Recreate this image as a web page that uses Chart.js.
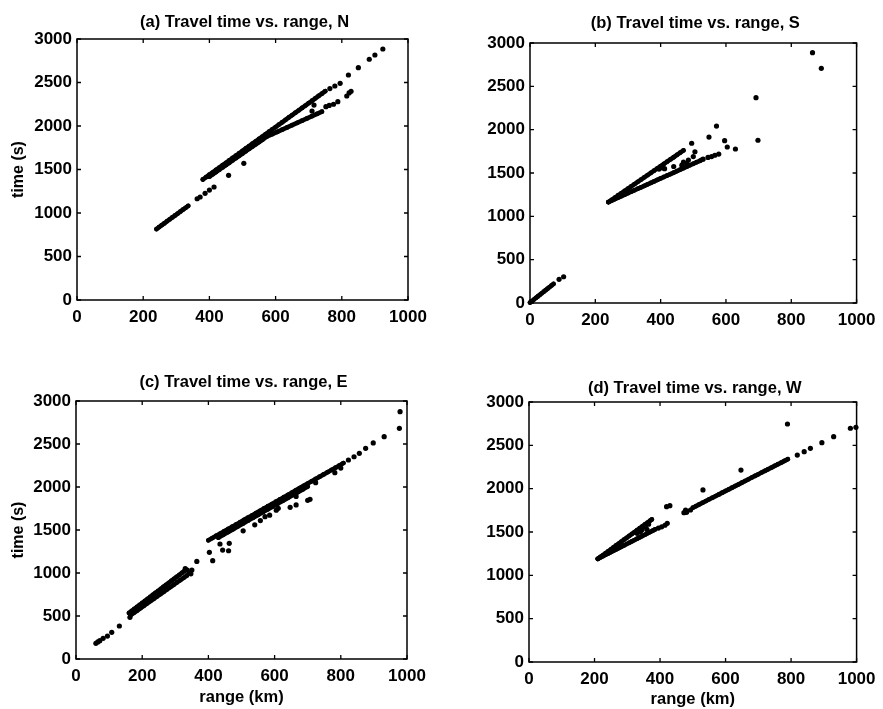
<!DOCTYPE html>
<html><head><meta charset="utf-8">
<script src="https://cdn.jsdelivr.net/npm/chart.js@4/dist/chart.umd.min.js"></script>
<style>
html,body{margin:0;padding:0;background:#fff;}
#wrap{position:relative;width:883px;height:709px;overflow:hidden;background:#fff;}
.panel{position:absolute;}
.panel canvas{display:block;}
</style></head><body>
<div id="wrap">
<div class="panel" style="left:0;top:0;width:441px;height:340px"><canvas id="ca"></canvas></div>
<div class="panel" style="left:441px;top:0;width:442px;height:340px"><canvas id="cb"></canvas></div>
<div class="panel" style="left:0;top:340px;width:441px;height:369px"><canvas id="cc"></canvas></div>
<div class="panel" style="left:441px;top:340px;width:442px;height:369px"><canvas id="cd"></canvas></div>
</div>
<script>
// ---- text / ticks ----
const panelTitles = ['(a) Travel time vs. range, N','(b) Travel time vs. range, S','(c) Travel time vs. range, E','(d) Travel time vs. range, W'];
const xAxisLabel = 'range (km)';
const yAxisLabel = 'time (s)';
const xTicks = [0,200,400,600,800,1000];
const yTicks = [0,500,1000,1500,2000,2500,3000];

// ---- (a) North: [range km, time s] ----
const nLowerRun = [[240,815],[248,838],[256,860],[264,882],[272,905],[280,927],[288,949],[296,971],[304,993],[312,1015],[320,1038],[328,1060],[336,1082]];
const nGapDots = [[363,1164],[372,1184],[387,1226],[400,1264],[414,1299],[458,1433],[504,1571]];
const nUpperBranch = [[380,1385],[390,1412],[400,1440],[410,1467],[420,1495],[430,1522],[440,1550],[450,1577],[460,1604],[470,1632],[480,1659],[490,1687],[500,1714],[510,1742],[520,1769],[530,1796],[540,1824],[550,1851],[560,1879],[570,1906],[580,1934],[590,1961],[600,1988],[610,2016],[620,2043],[630,2071],[640,2098],[650,2126],[660,2153],[670,2180],[680,2208],[690,2235],[700,2263],[710,2290],[720,2318],[730,2345],[740,2372],[750,2400]];
const nLowerBranch = [[400,1418],[410,1445],[420,1471],[430,1498],[440,1524],[450,1551],[460,1577],[470,1604],[480,1630],[490,1657],[500,1683],[510,1710],[520,1736],[530,1763],[540,1789],[550,1816],[560,1842],[573,1877],[590,1906],[605,1932],[620,1958],[635,1984],[650,2010],[665,2036],[680,2061],[695,2087],[710,2113],[725,2139],[740,2165]];
const nFarDots = [[710,2172],[716,2241],[752,2222],[762,2236],[775,2250],[788,2280],[764,2430],[779,2460],[795,2491],[815,2345],[822,2380],[828,2398],[820,2586],[850,2670],[883,2767],[900,2816],[924,2885]];

// ---- (b) South ----
const sOriginRun = [[0,5],[6,22],[12,40],[18,58],[24,76],[30,94],[36,112],[42,130],[48,148],[54,166],[60,184],[66,202],[72,220]];
const sEndDots = [[89,273],[103,303]];
const sUpperBranch = [[240,1165],[250,1191],[260,1217],[270,1243],[280,1268],[290,1294],[300,1320],[310,1346],[320,1372],[330,1398],[340,1424],[350,1450],[360,1475],[370,1501],[380,1527],[390,1553],[400,1579],[410,1605],[420,1631],[430,1657],[440,1682],[450,1708],[460,1734],[470,1760]];
const sLowerBranch = [[240,1165],[250,1182],[260,1199],[270,1216],[280,1233],[290,1250],[300,1267],[310,1284],[320,1301],[330,1318],[340,1335],[350,1352],[360,1369],[370,1386],[380,1403],[390,1420],[400,1437],[410,1454],[420,1471],[430,1488],[440,1505],[450,1522],[460,1539],[470,1556],[480,1573],[490,1590],[500,1607],[510,1624],[520,1641],[525,1650]];
const sInnerDots = [[395,1545],[405,1560],[412,1550],[440,1575],[465,1590],[470,1625],[480,1610],[485,1650],[500,1690],[505,1745],[530,1660],[545,1680],[556,1690],[566,1705],[578,1718]];
const sOutliers = [[495,1843],[548,1915],[571,2042],[596,1873],[604,1800],[629,1777],[692,2369],[698,1878],[865,2888],[892,2708]];

// ---- (c) East ----
const eStartDots = [[60,182],[66,198],[72,213],[82,240],[95,267],[108,310],[131,384],[163,485]];
const eLowerRunTop = [[160,535],[168,558],[176,582],[184,605],[192,628],[200,651],[208,675],[216,698],[224,721],[232,745],[240,768],[248,791],[256,814],[264,838],[272,861],[280,884],[288,908],[296,931],[304,954],[312,977],[320,1001],[328,1024]];
const eLowerRunBottom = [[165,510],[175,537],[185,564],[195,591],[205,619],[215,646],[225,673],[235,700],[245,727],[255,754],[265,781],[275,809],[285,836],[295,863],[305,890],[315,917],[325,944],[335,971]];
const eMidDots = [[330,1050],[336,1035],[342,1000],[347,990],[350,1035],[365,1135],[403,1240],[413,1143],[435,1337],[443,1267],[461,1259],[463,1345]];
const eUpperTop = [[400,1380],[412,1406],[424,1433],[436,1459],[448,1486],[460,1512],[472,1538],[484,1565],[496,1591],[508,1618],[520,1644],[532,1670],[544,1697],[556,1723],[568,1750],[580,1776],[592,1802],[604,1829],[616,1855],[628,1882],[640,1908],[652,1934],[664,1961],[676,1987],[688,2014],[700,2040],[712,2066],[724,2093],[736,2119],[748,2146],[760,2172],[772,2198],[784,2225],[796,2251],[808,2278]];
const eUpperBottom = [[430,1411],[445,1444],[460,1477],[475,1510],[490,1543],[505,1576],[520,1609],[535,1642],[550,1675],[565,1708],[580,1741],[595,1774],[610,1807],[625,1840],[640,1873],[655,1906],[670,1939],[685,1972],[700,2005]];
const eBelowDots = [[505,1490],[540,1560],[557,1610],[571,1655],[585,1672],[605,1730],[611,1752],[647,1764],[665,1791],[665,1890],[700,1845],[707,1857],[724,2050],[782,2166],[800,2220]];
const eFarDots = [[823,2314],[840,2352],[856,2391],[875,2450],[898,2512],[931,2585],[977,2682],[979,2876]];

// ---- (d) West ----
const wUpperBranch = [[210,1190],[218,1212],[226,1234],[234,1256],[242,1278],[250,1300],[258,1322],[266,1345],[274,1367],[282,1389],[290,1411],[298,1433],[306,1455],[314,1477],[322,1499],[330,1521],[338,1543],[346,1565],[354,1587],[362,1609],[370,1632],[375,1645]];
const wLowerBranch = [[210,1190],[218,1206],[226,1221],[234,1237],[242,1252],[250,1268],[258,1283],[266,1299],[274,1314],[282,1330],[290,1345],[298,1361],[306,1376],[314,1392],[322,1407],[330,1423],[338,1438],[346,1454],[354,1469],[362,1485],[370,1500],[378,1516],[385,1530]];
const wInnerDots = [[330,1485],[340,1500],[345,1525],[355,1560],[360,1530],[365,1590],[395,1545],[405,1560],[415,1578],[422,1600]];
const wMidDots = [[420,1792],[430,1804],[473,1723],[478,1754],[481,1727],[493,1754]];
const wLongRun = [[500,1780],[510,1799],[520,1819],[530,1838],[540,1857],[550,1877],[560,1896],[570,1915],[580,1934],[590,1954],[600,1973],[610,1992],[620,2012],[630,2031],[640,2050],[650,2070],[660,2089],[670,2108],[680,2128],[690,2147],[700,2166],[710,2186],[720,2205],[730,2224],[740,2243],[750,2263],[760,2282],[770,2301],[780,2321],[790,2340]];
const wFarDots = [[819,2388],[840,2427],[859,2465],[894,2531],[930,2600],[981,2697],[998,2708]];
const wOutliers = [[531,1985],[647,2215],[789,2746]];

// ---- rendering ----
const FONT = '"Liberation Sans", Arial, Helvetica, sans-serif';
Chart.defaults.font.family = FONT;
Chart.defaults.font.size = 17;
Chart.defaults.font.weight = 'bold';
Chart.defaults.color = '#000';

const frameTicks = {
  id: 'frameTicks',
  afterDatasetsDraw(chart) {
    const {ctx, chartArea: a, scales: {x, y}} = chart;
    ctx.save();
    ctx.strokeStyle = '#000';
    ctx.lineWidth = 1.5;
    ctx.strokeRect(a.left, a.top, a.right - a.left, a.bottom - a.top);
    ctx.lineWidth = 1.3;
    const L = 4;
    ctx.beginPath();
    x.ticks.forEach(t => { const p = x.getPixelForValue(t.value); ctx.moveTo(p, a.bottom); ctx.lineTo(p, a.bottom - L); ctx.moveTo(p, a.top); ctx.lineTo(p, a.top + L); });
    y.ticks.forEach(t => { const p = y.getPixelForValue(t.value); ctx.moveTo(a.left, p); ctx.lineTo(a.left + L, p); ctx.moveTo(a.right, p); ctx.lineTo(a.right - L, p); });
    ctx.stroke();
    ctx.restore();
  }
};
const panelTitle = {
  id: 'panelTitle',
  afterDraw(chart, args, opts) {
    const {ctx, chartArea: a} = chart;
    ctx.save();
    ctx.font = 'bold 16.5px ' + FONT;
    ctx.fillStyle = '#000';
    ctx.textAlign = 'center';
    ctx.textBaseline = 'alphabetic';
    ctx.fillText(opts.text, (a.left + a.right) / 2 + (opts.dx || 0), opts.baseline);
    ctx.restore();
  }
};

const toXY = arr => arr.map(([x, y]) => ({x, y}));

function makePanel(id, cfg) {
  // dense runs of overlapping points: drawn as points joined by a thick stroke
  const runSets = cfg.runs.map(r => ({ data: toXY(r), showLine: true, borderColor: '#000', borderWidth: 4.6,
    borderCapStyle: 'round', borderJoinStyle: 'round', backgroundColor: '#000', pointRadius: 2.4, pointBorderWidth: 0, clip: 6 }));
  const dotSet = { data: toXY([].concat(...cfg.dots)), showLine: false, backgroundColor: '#000', borderWidth: 0, pointRadius: 2.6, clip: 6 };
  new Chart(document.getElementById(id), {
    type: 'scatter',
    data: { datasets: [...runSets, dotSet] },
    options: {
      responsive: true, maintainAspectRatio: false, animation: false, devicePixelRatio: 1,
      events: [],
      layout: { padding: cfg.pad },
      plugins: { legend: { display: false }, tooltip: { enabled: false }, title: { display: false },
        panelTitle: { text: cfg.title, baseline: cfg.titleBaseline, dx: 2 } },
      scales: {
        x: {
          type: 'linear', min: 0, max: 1000,
          afterBuildTicks: s => { s.ticks = xTicks.map(v => ({value: v})); },
          afterFit: s => { s.height = cfg.xH; },
          grid: { display: false, drawTicks: false }, border: { display: false },
          ticks: { padding: 7.5, maxRotation: 0, autoSkip: false, color: '#000', font: { size: 17, weight: 'bold' }, callback: v => String(v) },
          title: { display: !!cfg.xTitle, text: xAxisLabel, color: '#000', font: { size: 16.5, weight: 'bold' }, padding: { top: 0, bottom: cfg.xTitlePad || 0 } }
        },
        y: {
          type: 'linear', min: 0, max: 3000,
          afterBuildTicks: s => { s.ticks = yTicks.map(v => ({value: v})); },
          afterFit: s => { s.width = cfg.yW; },
          grid: { display: false, drawTicks: false }, border: { display: false },
          ticks: { padding: 5, autoSkip: false, color: '#000', font: { size: 17, weight: 'bold' }, callback: v => String(v) },
          title: { display: !!cfg.yTitle, text: yAxisLabel, color: '#000', font: { size: 16, weight: 'bold' }, padding: { top: 9, bottom: 0 } }
        }
      }
    },
    plugins: [frameTicks, panelTitle]
  });
}

makePanel('ca', { title: panelTitles[0], titleBaseline: 26.5, pad: {top: 39, right: 33, bottom: 0, left: 0}, yW: 77, xH: 40, yTitle: true,
  runs: [nLowerRun, nUpperBranch, nLowerBranch], dots: [nGapDots, nFarDots] });
makePanel('cb', { title: panelTitles[1], titleBaseline: 28.3, pad: {top: 43, right: 23, bottom: 0, left: 0}, yW: 89, xH: 37,
  runs: [sOriginRun, sUpperBranch, sLowerBranch], dots: [sEndDots, sInnerDots, sOutliers] });
makePanel('cc', { title: panelTitles[2], titleBaseline: 46.7, pad: {top: 61, right: 34, bottom: 0, left: 0}, yW: 76, xH: 50, yTitle: true, xTitle: true, xTitlePad: 2,
  runs: [eLowerRunTop, eLowerRunBottom, eUpperTop, eUpperBottom], dots: [eStartDots, eMidDots, eBelowDots, eFarDots] });
makePanel('cd', { title: panelTitles[3], titleBaseline: 52.5, pad: {top: 62, right: 24, bottom: 0, left: 0}, yW: 88, xH: 47, xTitle: true, xTitlePad: 0,
  runs: [wUpperBranch, wLowerBranch, wLongRun], dots: [wInnerDots, wMidDots, wFarDots, wOutliers] });
</script>
</body></html>
